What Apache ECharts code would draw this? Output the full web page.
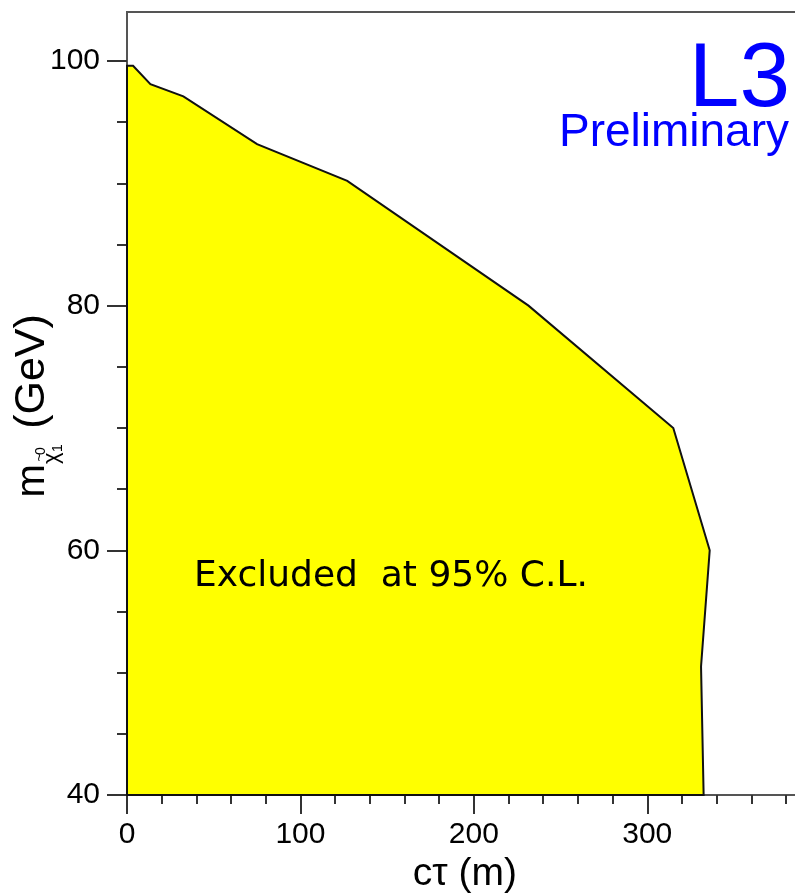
<!DOCTYPE html>
<html>
<head>
<meta charset="utf-8">
<script src="https://cdn.jsdelivr.net/npm/echarts@6/dist/echarts.min.js"></script>
<style>html,body{margin:0;padding:0;background:#fff;}#c{width:795px;height:893px;}</style>
</head>
<body>
<div id="c"></div>
<script>
// Exclusion-region boundary (c tau in m, neutralino mass in GeV)
const boundaryCtau = [0, 0, 3.5, 13.5, 32.5, 75, 127, 231.5, 315, 336, 331, 332.5];
const boundaryMass = [40, 99.6, 99.6, 98.1, 97.1, 93.2, 90.2, 80, 70, 60, 50.5, 40];
// Axis ticks
const xMajorTicks = [0, 100, 200, 300];
const xMinorTicks = [20, 40, 60, 80, 120, 140, 160, 180, 220, 240, 260, 280, 320, 340, 360, 380];
const yMajorTicks = [40, 60, 80, 100];
const yMinorTicks = [45, 50, 55, 65, 70, 75, 85, 90, 95];
const xRange = [0, 400];
const yRange = [40, 104];

const chart = echarts.init(document.getElementById('c'), null, {renderer: 'canvas'});
const axisCol = '#555';
const tickCol = '#333';
const labFont = {fontFamily: '"Liberation Sans", Arial, sans-serif', fontSize: 30, color: '#000'};

const option = {
  animation: false,
  backgroundColor: '#fff',
  grid: {left: 127, top: 12, width: 693.7, height: 783, outerBoundsMode: 'none', containLabel: false,
    show: true, borderColor: axisCol, borderWidth: 2, backgroundColor: 'transparent'},
  xAxis: [{
    type: 'value', min: xRange[0], max: xRange[1], position: 'bottom',
    axisLine: {show: true, lineStyle: {color: axisCol, width: 2}},
    axisTick: {show: true, length: 19, lineStyle: {color: tickCol, width: 2}, customValues: xMajorTicks},
    axisLabel: Object.assign({margin: 25, customValues: xMajorTicks}, labFont),
    splitLine: {show: false},
    name: 'cτ (m)', nameLocation: 'middle', nameGap: 60,
    nameTextStyle: {fontFamily: '"Liberation Sans", Arial, sans-serif', fontSize: 39, color: '#000', padding: [0, 18, 0, 0]}
  }, {
    type: 'value', min: xRange[0], max: xRange[1], position: 'bottom', gridIndex: 0,
    axisLine: {show: false},
    axisTick: {show: true, length: 9, lineStyle: {color: tickCol, width: 2}, customValues: xMinorTicks},
    axisLabel: {show: false},
    splitLine: {show: false}
  }],
  yAxis: [{
    type: 'value', min: yRange[0], max: yRange[1], position: 'left',
    axisLine: {show: true, lineStyle: {color: axisCol, width: 2}},
    axisTick: {show: true, length: 20, lineStyle: {color: tickCol, width: 2}, customValues: yMajorTicks},
    axisLabel: Object.assign({margin: 27, customValues: yMajorTicks}, labFont),
    splitLine: {show: false}
  }, {
    type: 'value', min: yRange[0], max: yRange[1], position: 'left', gridIndex: 0,
    axisLine: {show: false},
    axisTick: {show: true, length: 10, lineStyle: {color: tickCol, width: 2}, customValues: yMinorTicks},
    axisLabel: {show: false},
    splitLine: {show: false}
  }],
  series: [{
    type: 'custom',
    xAxisIndex: 0, yAxisIndex: 0,
    data: [[boundaryCtau[0], boundaryMass[0]]],
    renderItem: function (params, api) {
      const pts = boundaryCtau.map(function (x, i) { return api.coord([x, boundaryMass[i]]); });
      return {type: 'polygon', shape: {points: pts},
        style: {fill: '#ffff00', stroke: '#111', lineWidth: 2}};
    },
    z: 1,
    silent: true
  }],
  graphic: [
    {type: 'text', x: 790, y: 81, z: 10, style: {text: 'L3', fontFamily: '"Liberation Sans", Arial, sans-serif', fontSize: 91, fill: '#0000ff', align: 'right', verticalAlign: 'middle'}},
    {type: 'text', x: 789, y: 133, z: 10, style: {text: 'Preliminary', fontFamily: '"Liberation Sans", Arial, sans-serif', fontSize: 46, fill: '#0000ff', align: 'right', verticalAlign: 'middle'}},
    {type: 'text', x: 194, y: 577, z: 10, style: {text: 'Excluded  at 95% C.L.', fontFamily: '"DejaVu Sans", sans-serif', fontSize: 36, fill: '#000', align: 'left', verticalAlign: 'middle'}},
    // y-axis title: m_{chi~^0_1} (GeV), rotated
    {type: 'text', x: 32.6, y: 497.6, rotation: Math.PI / 2, z: 10, style: {text: 'm', fontFamily: '"Liberation Sans", Arial, sans-serif', fontSize: 40, fill: '#000', align: 'left', verticalAlign: 'middle'}},
    {type: 'text', x: 51.6, y: 464, rotation: Math.PI / 2, z: 10, style: {text: 'χ', fontFamily: '"Liberation Sans", Arial, sans-serif', fontSize: 22, fill: '#000', align: 'left', verticalAlign: 'middle'}},
    {type: 'text', x: 40.4, y: 457.5, rotation: Math.PI / 2, z: 10, style: {text: '~', fontFamily: '"Liberation Sans", Arial, sans-serif', fontSize: 14, fill: '#000', align: 'center', verticalAlign: 'middle'}},
    {type: 'text', x: 40.7, y: 451, rotation: Math.PI / 2, z: 10, style: {text: '0', fontFamily: '"Liberation Sans", Arial, sans-serif', fontSize: 14, fill: '#000', align: 'center', verticalAlign: 'middle'}},
    {type: 'text', x: 57.7, y: 448, rotation: Math.PI / 2, z: 10, style: {text: '1', fontFamily: '"Liberation Sans", Arial, sans-serif', fontSize: 14, fill: '#000', align: 'center', verticalAlign: 'middle'}},
    {type: 'text', x: 32.6, y: 371.5, rotation: Math.PI / 2, z: 10, style: {text: '(GeV)', fontFamily: '"Liberation Sans", Arial, sans-serif', fontSize: 43, fill: '#000', align: 'center', verticalAlign: 'middle'}}
  ]
};
chart.setOption(option);
</script>
</body>
</html>
